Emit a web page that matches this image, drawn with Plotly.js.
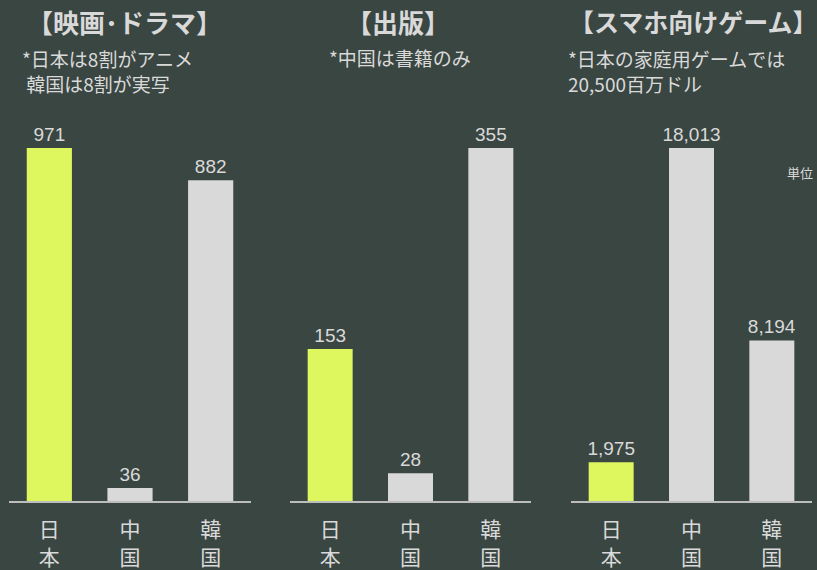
<!DOCTYPE html>
<html>
<head>
<meta charset="utf-8">
<script src="https://cdn.plot.ly/plotly-3.0.1.min.js"></script>
<style>
  html, body { margin: 0; padding: 0; background: #3a4642; }
  #chart { width: 817px; height: 570px; }
</style>
</head>
<body>
<div id="chart"></div>
<script>
// categories (vertical labels)
var countries = ['日<br>本', '中<br>国', '韓<br>国'];

// values, million USD
var movieDrama = [971, 36, 882];
var publishing = [153, 28, 355];
var mobileGame = [1975, 18013, 8194];

var barColors = ['#dff75f', '#d9d9d9', '#d9d9d9'];
var textCol = '#d9d9d9';
var fontFam = 'Liberation Sans, Arial, Noto Sans CJK JP, sans-serif';

function fmt(v) { return v.toLocaleString('en-US'); }

function mkBar(vals, ax) {
  return {
    type: 'bar',
    x: countries,
    y: vals,
    xaxis: 'x' + ax,
    yaxis: 'y' + ax,
    marker: {color: barColors},
    text: vals.map(fmt),
    textposition: 'outside',
    constraintext: 'none',
    textfont: {size: 19, color: textCol, family: fontFam},
    cliponaxis: false,
    hoverinfo: 'none'
  };
}

var data = [mkBar(movieDrama, ''), mkBar(publishing, 2), mkBar(mobileGame, 3)];

function xax(d) {
  return {
    domain: d,
    showline: true, linecolor: '#bdbdbd', linewidth: 2,
    showgrid: false, zeroline: false, ticks: '',
    ticklabelstandoff: 9,
    tickfont: {size: 21, color: textCol, family: 'Noto Sans CJK JP'},
    fixedrange: true
  };
}
function yax(r, anchor) {
  return {
    domain: [0.121, 1], range: [0, r],
    visible: false, showgrid: false, zeroline: false,
    anchor: anchor
  };
}

var W = 817;
var layout = {
  width: 817, height: 570,
  margin: {l: 0, r: 0, t: 0, b: 0},
  paper_bgcolor: '#3a4642',
  plot_bgcolor: '#3a4642',
  showlegend: false,
  bargap: 0.44,
  font: {family: fontFam, color: textCol},
  xaxis: Object.assign(xax([9 / W, 251 / W]), {anchor: 'y'}),
  yaxis: yax(1378, 'x'),
  xaxis2: Object.assign(xax([290 / W, 531 / W]), {anchor: 'y2'}),
  yaxis2: yax(504, 'x2'),
  xaxis3: Object.assign(xax([571 / W, 812 / W]), {anchor: 'y3'}),
  yaxis3: yax(25566, 'x3'),
  annotations: [
    {text: '<b>【映画･ドラマ】</b>', x: 124 / W, y: 1 - 21 / 570, xanchor: 'center', yanchor: 'middle'},
    {text: '*日本は8割がアニメ<br> 韓国は8割が実写', x: 20 / W, y: 1 - 71 / 570, xanchor: 'left', yanchor: 'middle', align: 'left', size: 19},
    {text: '<b>【出版】</b>', x: 398 / W, y: 1 - 21 / 570, xanchor: 'center', yanchor: 'middle'},
    {text: '*中国は書籍のみ', x: 400 / W, y: 1 - 58 / 570, xanchor: 'center', yanchor: 'middle', size: 19},
    {text: '<b>【スマホ向けゲーム】</b>', x: 693 / W, y: 1 - 21 / 570, xanchor: 'center', yanchor: 'middle', size: 25},
    {text: '*日本の家庭用ゲームでは<br>20,500百万ドル', x: 566 / W, y: 1 - 71 / 570, xanchor: 'left', yanchor: 'middle', align: 'left', size: 19},
    {text: '単位', x: 815 / W, y: 1 - 172 / 570, xanchor: 'right', yanchor: 'middle', size: 13}
  ].map(function (a) {
    var sz = a.size || 26;
    return {
      text: a.text, xref: 'paper', yref: 'paper', x: a.x, y: a.y,
      xanchor: a.xanchor, yanchor: a.yanchor, align: a.align || 'center',
      showarrow: false,
      font: {size: sz, color: textCol, family: 'Noto Sans CJK JP'}
    };
  })
};

Plotly.newPlot('chart', data, layout, {staticPlot: true});
</script>
</body>
</html>
